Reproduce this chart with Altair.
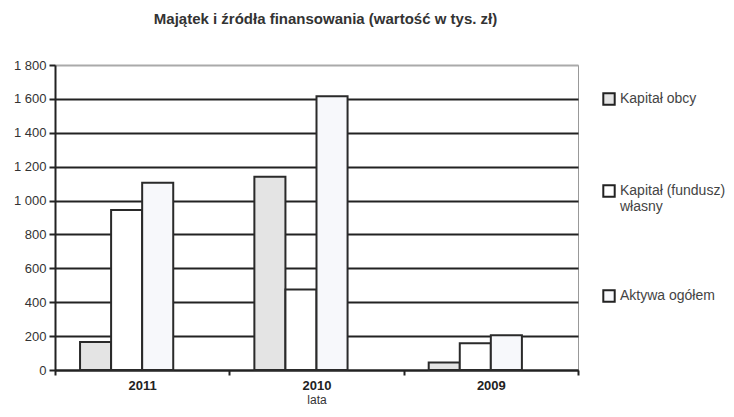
import altair as alt
import pandas as pd

years = ["2011", "2010", "2009"]
series = ["Kapitał obcy", "Kapitał (fundusz) własny", "Aktywa ogółem"]
obcy = [165, 1140, 45]
wlasny = [945, 475, 158]
aktywa = [1105, 1615, 205]
y_ticks = [0, 200, 400, 600, 800, 1000, 1200, 1400, 1600, 1800]
colors = ["#e4e4e4", "#ffffff", "#f7f8fb"]

rows = []
for i, yr in enumerate(years):
    for s, vals in zip(series, [obcy, wlasny, aktywa]):
        rows.append({"rok": yr, "seria": s, "wartosc": vals[i]})
df = pd.DataFrame(rows)

FONT = "Liberation Sans"

bars = alt.Chart(df).mark_bar(stroke="#2a2a2a", strokeWidth=2).encode(
    x=alt.X("rok:N", sort=years, title="lata",
            scale=alt.Scale(paddingInner=0, paddingOuter=0),
            axis=alt.Axis(labelAngle=0, labelFontWeight="bold", labelFontSize=13,
                          labelColor="#222", titleFontSize=12, titleFontWeight="normal",
                          titleColor="#333", titlePadding=2, domainColor="#222",
                          domainWidth=2, tickColor="#222", tickWidth=2, tickSize=5,
                          tickBand="extent", labelPadding=4, grid=False)),
    xOffset=alt.XOffset("seria:N", scale=alt.Scale(domain=series + ["_"], paddingInner=0, paddingOuter=0.806)),
    y=alt.Y("wartosc:Q", title=None,
            scale=alt.Scale(domain=[0, 1800], nice=False),
            axis=alt.Axis(values=y_ticks, labelExpr="replace(format(datum.value, ','), ',', ' ')",
                          labelFontSize=13, labelColor="#333", domainColor="#222", domainWidth=2,
                          tickColor="#222", tickWidth=2, tickSize=6, labelPadding=3,
                          grid=True, gridWidth=2,
                          gridColor={"condition": {"test": "datum.value === 1800", "value": "#aaaaaa"}, "value": "#222222"})),
    color=alt.Color("seria:N", scale=alt.Scale(domain=series, range=colors),
                    legend=alt.Legend(title=None, orient="none", legendX=547, legendY=27,
                                      symbolType="square", symbolSize=130, symbolStrokeColor="#222",
                                      symbolStrokeWidth=2, labelFontSize=14, labelColor="#444",
                                      labelOffset=4,
                                      labelExpr="datum.label == 'Kapitał (fundusz) własny' ? ['Kapitał (fundusz)', 'własny'] : datum.label",
                                      rowPadding=72, labelLimit=200)),
)

chart = bars.properties(
    width=523, height=305,
    padding={"left": 47, "top": 57, "right": 148, "bottom": 39},
    autosize=alt.AutoSizeParams(type="none"),
    title=alt.TitleParams("Majątek i źródła finansowania (wartość w tys. zł)", fontSize=15,
                          fontWeight="bold", color="#333", offset=32, dx=9, font=FONT),
).configure(font=FONT).configure_view(stroke="#999", strokeWidth=1)

chart.save("out.html", embed_options={"renderer": "svg", "actions": False})
